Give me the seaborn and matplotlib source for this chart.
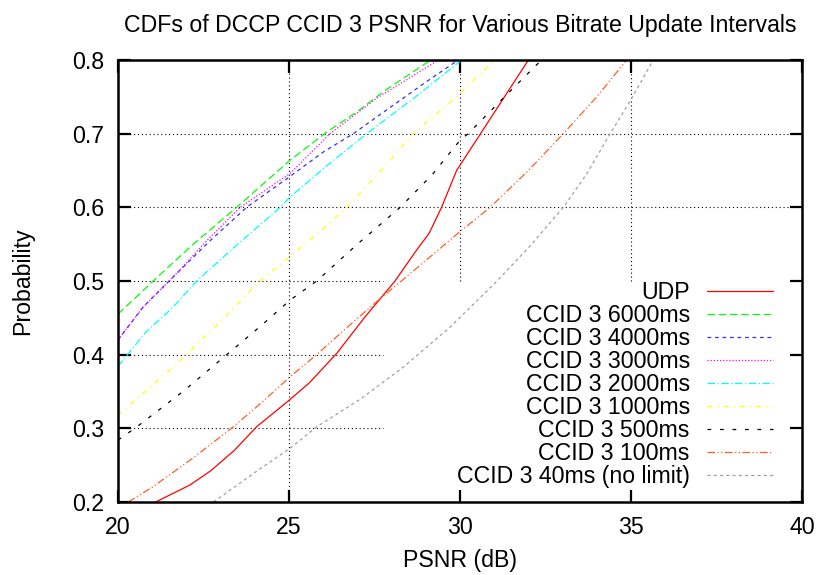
import numpy as np
import pandas as pd
import seaborn as sns
import matplotlib.pyplot as plt

# values (PSNR dB, cumulative probability)
udp_x = [21.1, 22.1, 22.7, 23.4, 24.05, 25.0, 25.6, 26.4, 27.2, 28.1, 28.7, 29.1, 29.46, 29.9, 30.6, 31.3, 32.0]
udp_y = [0.2, 0.223, 0.242, 0.27, 0.302, 0.338, 0.362, 0.402, 0.45, 0.5, 0.54, 0.565, 0.6, 0.65, 0.7, 0.75, 0.8]

c6000_x = [20.0, 21.03, 22.2, 23.47, 25.03, 26.1, 27.0, 27.76, 28.5, 29.15]
c6000_y = [0.455, 0.5, 0.55, 0.6, 0.664, 0.702, 0.73, 0.757, 0.78, 0.8]

c4000_x = [20.0, 20.74, 21.71, 22.7, 23.76, 25.03, 26.0, 26.88, 28.0, 29.0, 29.95]
c4000_y = [0.42, 0.465, 0.51, 0.555, 0.6, 0.642, 0.675, 0.7, 0.737, 0.77, 0.8]

c3000_x = [20.0, 20.74, 21.71, 22.6, 23.57, 25.03, 26.2, 27.56, 28.5, 29.37]
c3000_y = [0.42, 0.465, 0.51, 0.555, 0.6, 0.646, 0.70, 0.748, 0.775, 0.8]

c2000_x = [20.0, 20.8, 21.62, 22.3, 23.5, 24.74, 25.03, 26.2, 27.27, 28.7, 30.05]
c2000_y = [0.384, 0.43, 0.465, 0.5, 0.55, 0.6, 0.614, 0.66, 0.7, 0.75, 0.8]

c1000_x = [20.0, 21.0, 22.0, 23.1, 24.15, 25.03, 25.9, 26.69, 27.7, 28.63, 29.95, 31.02]
c1000_y = [0.318, 0.358, 0.4, 0.45, 0.5, 0.533, 0.567, 0.6, 0.65, 0.7, 0.752, 0.8]

c500_x = [20.0, 20.55, 21.9, 23.18, 24.2, 25.03, 25.81, 27.0, 28.25, 29.2, 30.0, 30.24, 31.3, 32.34]
c500_y = [0.284, 0.302, 0.35, 0.4, 0.44, 0.474, 0.5, 0.55, 0.6, 0.645, 0.691, 0.7, 0.75, 0.798]

c100_x = [20.3, 21.0, 22.2, 23.37, 24.2, 25.03, 25.81, 26.7, 27.56, 28.8, 30.0, 30.88, 32.0, 33.02, 34.0, 34.87]
c100_y = [0.2, 0.22, 0.26, 0.302, 0.335, 0.37, 0.4, 0.437, 0.472, 0.52, 0.567, 0.6, 0.65, 0.7, 0.75, 0.8]

c40_x = [22.79, 24.0, 25.03, 25.81, 27.1, 28.34, 29.7, 31.02, 32.0, 33.02, 33.7, 34.34, 35.02, 35.65]
c40_y = [0.2, 0.24, 0.273, 0.302, 0.34, 0.383, 0.437, 0.497, 0.545, 0.6, 0.645, 0.696, 0.748, 0.8]

names = ['UDP', 'CCID 3 6000ms', 'CCID 3 4000ms', 'CCID 3 3000ms', 'CCID 3 2000ms',
         'CCID 3 1000ms', 'CCID 3 500ms', 'CCID 3 100ms', 'CCID 3 40ms (no limit)']
xs = [udp_x, c6000_x, c4000_x, c3000_x, c2000_x, c1000_x, c500_x, c100_x, c40_x]
ys = [udp_y, c6000_y, c4000_y, c3000_y, c2000_y, c1000_y, c500_y, c100_y, c40_y]

colors = ['#ff0000', '#00ff00', '#3030ff', '#ff00ff', '#00ffff',
          '#ffff00', '#000000', '#ff6020', '#a0a0a0']
dashes = ['', (6, 3), (3, 3), (1, 1.5), (6, 2, 1, 2), (4, 4, 1, 4),
          (3, 7), (6, 2, 1, 2, 1, 2), (2.5, 2.5)]

df = pd.concat([pd.DataFrame({'psnr': x, 'prob': y, 'series': n})
                for x, y, n in zip(xs, ys, names)])

sns.set_style('ticks', {'text.color': 'black', 'axes.labelcolor': 'black',
                        'xtick.color': 'black', 'ytick.color': 'black'})
plt.rcParams['font.family'] = ['Liberation Sans', 'DejaVu Sans']

fig = plt.figure(figsize=(8.22, 5.75), dpi=100)
ax = fig.add_axes([0.1436, 0.127, 0.8321, 0.7687])

sns.lineplot(data=df, x='psnr', y='prob', hue='series', style='series',
             palette=dict(zip(names, colors)), dashes=dict(zip(names, dashes)),
             estimator=None, sort=False, linewidth=0.9, legend=False, ax=ax)

curves = list(ax.lines)

ax.set_xlim(20, 40)
ax.set_ylim(0.2, 0.8)
ax.set_xticks([20, 25, 30, 35, 40])
ax.set_yticks([0.2, 0.3, 0.4, 0.5, 0.6, 0.7, 0.8])
ax.set_yticklabels(['0.2', '0.3', '0.4', '0.5', '0.6', '0.7', '0.8'])
ax.tick_params(direction='in', length=9, width=1.6, top=True, right=True,
               labelsize=16.7, colors='black')
ax.tick_params(axis='x', pad=10)
ax.tick_params(axis='y', pad=10)
for s in ax.spines.values():
    s.set_linewidth(1.8)
    s.set_color('black')

# gnuplot style grid, cut out behind the key
grid_kw = dict(color='black', linestyle=(0, (1, 2.5)), linewidth=0.8, zorder=0)
ax.axvline(25, **grid_kw)
for gx in [30, 35]:
    ax.axvline(gx, ymin=0.5, ymax=1, **grid_kw)
for gy in [0.3, 0.4, 0.5]:
    ax.axhline(gy, xmin=0, xmax=0.3875, **grid_kw)
for gy in [0.6, 0.7]:
    ax.axhline(gy, **grid_kw)

leg = ax.legend(curves, names, loc='lower right', bbox_to_anchor=(0.957, 0.032),
                frameon=False, markerfirst=False, fontsize=16.7,
                handlelength=2.85, handletextpad=0.72, labelspacing=0.0,
                borderpad=0, borderaxespad=0)
for vp in leg._legend_box.get_children()[1].get_children():
    vp.align = 'right'

ax.set_title('CDFs of DCCP CCID 3 PSNR for Various Bitrate Update Intervals',
             fontsize=16.7, pad=20)
ax.set_xlabel('PSNR (dB)', fontsize=16.7, labelpad=7)
ax.set_ylabel('Probability', fontsize=16.7, labelpad=27)

fig.savefig('out.png', dpi=100)
